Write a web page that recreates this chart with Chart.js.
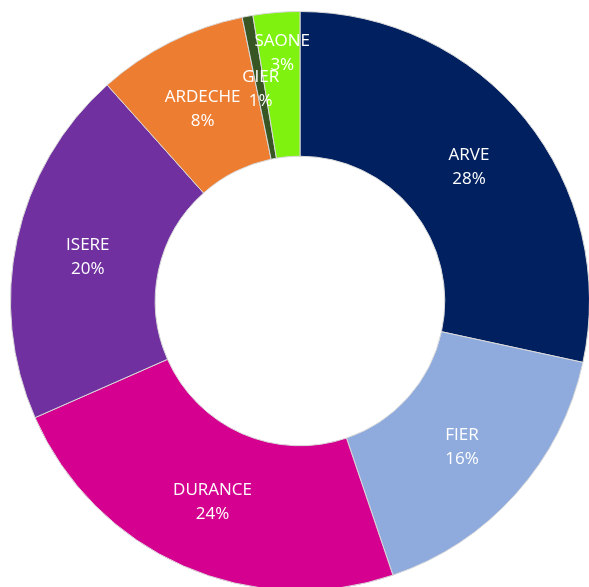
<!DOCTYPE html>
<html>
<head>
<meta charset="utf-8">
<script src="https://cdn.jsdelivr.net/npm/chart.js@4/dist/chart.umd.min.js"></script>
<style>
  html, body { margin: 0; padding: 0; background: #ffffff; overflow: hidden; }
  #wrap { position: absolute; left: 0; top: 0; width: 600px; height: 600px; }
</style>
</head>
<body>
<div id="wrap"><canvas id="chart" width="600" height="600"></canvas></div>
<script>
// Rivers and their share of the total (percent)
const categories = ['ARVE', 'FIER', 'DURANCE', 'ISERE', 'ARDECHE', 'GIER', 'SAONE'];
const shares = [28.4, 16.4, 23.6, 20.0, 8.4, 0.6, 2.6];

const sliceColors = ['#002060', '#8faadc', '#d5008f', '#7030a0', '#ed7d31', '#375623', '#7ff20f'];

// Vertical nudge for labels that would otherwise collide with a neighbour
const labelNudge = { SAONE: -33 };

const sliceLabels = {
  id: 'sliceLabels',
  afterDatasetsDraw(chart) {
    const ctx = chart.ctx;
    const meta = chart.getDatasetMeta(0);
    const data = chart.data.datasets[0].data;
    const total = data.reduce((a, b) => a + b, 0);
    ctx.save();
    ctx.fillStyle = '#ffffff';
    ctx.font = '17px "Open Sans", sans-serif';
    ctx.textAlign = 'center';
    ctx.textBaseline = 'middle';
    meta.data.forEach((arc, i) => {
      const p = arc.getCenterPoint();
      const name = chart.data.labels[i];
      const y = p.y + 2 + (labelNudge[name] || 0);
      const pct = Math.round(data[i] / total * 100) + '%';
      ctx.fillText(name, p.x, y - 12);
      ctx.fillText(pct, p.x, y + 12);
    });
    ctx.restore();
  }
};

new Chart(document.getElementById('chart'), {
  type: 'doughnut',
  data: {
    labels: categories,
    datasets: [{
      data: shares,
      backgroundColor: sliceColors,
      borderColor: '#d9d9d9',
      borderWidth: 1
    }]
  },
  options: {
    responsive: false,
    animation: false,
    cutout: '50%',
    layout: { padding: { left: 10, right: 10, top: 11, bottom: 9 } },
    plugins: {
      legend: { display: false },
      tooltip: { enabled: false }
    }
  },
  plugins: [sliceLabels]
});
</script>
</body>
</html>
